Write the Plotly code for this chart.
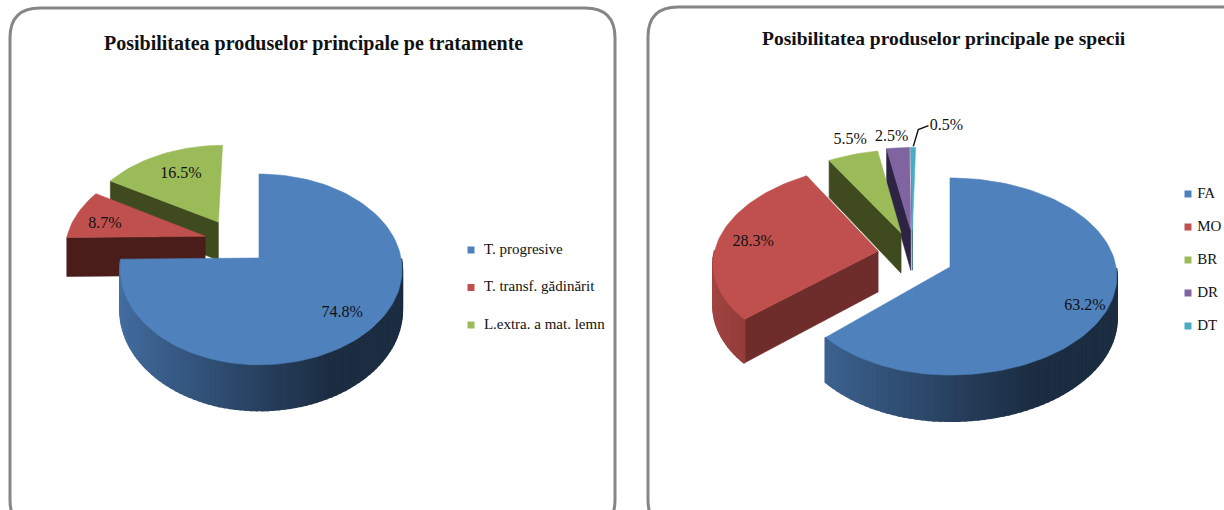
import math
import plotly.graph_objects as go

# ---- data ----
title_left = "Posibilitatea produselor principale pe tratamente"
names_left = ["T. progresive", "T. transf. gădinărit", "L.extra. a mat. lemn"]
values_left = [74.8, 8.7, 16.5]

title_right = "Posibilitatea produselor principale pe specii"
names_right = ["FA", "MO", "BR", "DR", "DT"]
values_right = [63.2, 28.3, 5.5, 2.5, 0.5]

# ---- styles / layout ----
TOP_LEFT = ["#4f81bd", "#c0504d", "#9bbb59"]
TOP_RIGHT = ["#4f81bd", "#c0504d", "#9bbb59", "#8064a2", "#4bacc6"]
CUT_LEFT = ["#1c3048", "#4a1d1b", "#3f4a1e"]
CUT_RIGHT = ["#1c3048", "#6e2c2a", "#3f4a1e", "#2d2444", "#22606f"]
FONT = "Liberation Serif"
TEXT = "#111111"

LEFT = dict(ax=259, ay=258, a=142, b=94, k=0.12, h=40, main_left=0.97,
            offset=[(0, 0), (-0.39, 0.237), (-0.30, 0.40)],
            label_r=[0.77, 0.77, 0.72], label_shift=[(0, 1), (-1, 5), (5, 2)])
RIGHT = dict(ax=950, ay=267, a=166, b=97.6, k=0.0965, h=41.5, main_left=0.95,
             offset=[(0, 0), (-0.44, 0.166), (-0.305, 0.36), (-0.245, 0.39), (-0.235, 0.39)],
             label_r=[0.87, 0.78, 1.2, 1.2, 1.24], label_shift=[(-2, 4), (-1, 2), (6, 0), (-4, 4), (33, -4)])


def project(p, x, y, z=0.0, lean=1.0):
    d = 1 + p["k"] * y
    sx = lean if x < 0 else 1.0
    return (p["ax"] + sx * p["a"] * x / d, p["ay"] - p["b"] * y / d + z * p["h"] / d)


def polar(off, r, deg):
    t = math.radians(deg)
    return off[0] + r * math.sin(t), off[1] + r * math.cos(t)


def shade(hex_col, f):
    r, g, b = (int(hex_col[i:i + 2], 16) for i in (1, 3, 5))
    return f"rgb({round(r * f)},{round(g * f)},{round(b * f)})"


fig = go.Figure()


def poly(pts, color, name=None, width=0.6):
    fig.add_trace(go.Scatter(
        x=[q[0] for q in pts] + [pts[0][0]], y=[q[1] for q in pts] + [pts[0][1]],
        mode="lines", fill="toself", fillcolor=color,
        line=dict(color=color, width=width), hoverinfo="text" if name else "skip",
        text=name, showlegend=False))


def draw_pie(p, names, values, tops, cuts):
    total = sum(values)
    spans, acc = [], 0.0
    for v in values:
        spans.append((acc, acc + 360.0 * v / total))
        acc += 360.0 * v / total
    # painter's order: exploded back slices first, main slice last
    for i in range(len(values) - 1, -1, -1):
        s, e = spans[i]
        off = p["offset"][i]
        lean = p["main_left"] if i == 0 else 1.0
        steps = max(2, int((e - s) / 2))
        angles = [s + (e - s) * j / steps for j in range(steps + 1)]
        # radial cut faces turned to the viewer
        for th, sign in ((s, -1), (e, 1)):
            if sign * math.sin(math.radians(th)) > 1e-6:
                rim = polar(off, 1, th)
                poly([project(p, *off), project(p, *rim), project(p, *rim, 1), project(p, *off, 1)], cuts[i])
        # outer wall with left-to-right shading
        for a0, a1 in zip(angles, angles[1:]):
            mid = (a0 + a1) / 2
            if 90 <= mid <= 270:
                t = min(1.0, (math.sin(math.radians(mid)) + 1) / 2 / 0.72)
                col = shade(tops[i], 0.85 - 0.5 * t)
                r0, r1 = polar(off, 1, a0), polar(off, 1, a1)
                poly([project(p, *r0, 0, lean), project(p, *r1, 0, lean),
                      project(p, *r1, 1, lean), project(p, *r0, 1, lean)], col, width=2.2)
        # top face
        pts = [project(p, *off)] + [project(p, *polar(off, 1, a), 0, lean) for a in angles]
        poly(pts, tops[i], f"{names[i]}: {values[i]}%")
    # data labels
    for i in range(len(values)):
        s, e = spans[i]
        off = p["offset"][i]
        mid = (s + e) / 2
        lx, ly = project(p, *polar(off, p["label_r"][i], mid))
        dx, dy = p["label_shift"][i]
        lx, ly = lx + dx, ly + dy
        if values[i] < 1:  # leader line of the smallest slice
            rx, ry = project(p, *polar(off, 1, mid))
            fig.add_trace(go.Scatter(x=[rx, rx + 5, lx - 18], y=[ry - 1, ly + 4, ly], mode="lines",
                                     line=dict(color="#111111", width=1.4), hoverinfo="skip", showlegend=False))
        fig.add_trace(go.Scatter(x=[lx], y=[ly], mode="text", text=[f"{values[i]:.1f}%"],
                                 textfont=dict(family=FONT, size=16, color=TEXT),
                                 hoverinfo="skip", showlegend=False))


def draw_legend(names, colors, x, y0, gap, pad):
    for i, (n, c) in enumerate(zip(names, colors)):
        fig.add_trace(go.Scatter(x=[x], y=[y0 + i * gap], mode="markers+text", text=[pad + n],
                                 textposition="middle right",
                                 marker=dict(symbol="square", size=7, color=c),
                                 textfont=dict(family=FONT, size=15, color=TEXT),
                                 hoverinfo="skip", showlegend=False))


draw_pie(LEFT, names_left, values_left, TOP_LEFT, CUT_LEFT)
draw_pie(RIGHT, names_right, values_right, TOP_RIGHT, CUT_RIGHT)
draw_legend(names_left, TOP_LEFT, 471, 250, 37.5, "\u00a0\u00a0")
draw_legend(names_right, TOP_RIGHT, 1188, 194, 33, "\u00a0")


def frame(x0, y0, x1, y1, r=30):
    return dict(type="path", xref="x", yref="y", layer="below",
                path=(f"M{x0 + r},{y0} L{x1 - r},{y0} Q{x1},{y0} {x1},{y0 + r} L{x1},{y1 - r} "
                      f"Q{x1},{y1} {x1 - r},{y1} L{x0 + r},{y1} Q{x0},{y1} {x0},{y1 - r} "
                      f"L{x0},{y0 + r} Q{x0},{y0} {x0 + r},{y0} Z"),
                line=dict(color="#868686", width=3), fillcolor="#ffffff")


fig.update_layout(
    width=1224, height=510, margin=dict(l=0, r=0, t=0, b=0),
    paper_bgcolor="#ffffff", plot_bgcolor="#ffffff", showlegend=False,
    xaxis=dict(range=[0, 1224], visible=False, fixedrange=True),
    yaxis=dict(range=[510, 0], visible=False, fixedrange=True),
    shapes=[frame(10, 8, 615, 530), frame(648, 7, 1260, 530)],
    annotations=[
        dict(x=313, y=43, xref="x", yref="y", text=f"<b>{title_left}</b>", showarrow=False,
             font=dict(family=FONT, size=20, color=TEXT)),
        dict(x=944, y=38, xref="x", yref="y", text=f"<b>{title_right}</b>", showarrow=False,
             font=dict(family=FONT, size=19.5, color=TEXT)),
    ],
)
fig.write_html("out.html", config=dict(displayModeBar=False),
               post_script="document.body.style.margin='0';document.body.style.overflow='hidden';")
